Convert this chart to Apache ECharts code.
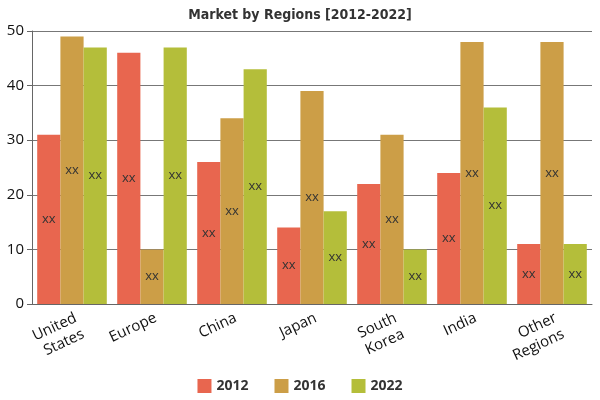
<!DOCTYPE html>
<html>
<head>
<meta charset="utf-8">
<script src="https://cdn.jsdelivr.net/npm/echarts@6/dist/echarts.min.js"></script>
<style>
  html, body { margin: 0; padding: 0; background: #fff; }
  #main { width: 600px; height: 400px; }
</style>
</head>
<body>
<div id="main"></div>
<script>
  // 数据
  const regions = ['United\nStates', 'Europe', 'China', 'Japan', 'South\nKorea', 'India', 'Other\nRegions']
  const years = ['2012', '2016', '2022']
  const v2012 = [31, 46, 26, 14, 22, 24, 11]
  const v2016 = [49, 10, 34, 39, 31, 48, 48]
  const v2022 = [47, 47, 43, 17, 10, 36, 11]
  const yTicks = [0, 10, 20, 30, 40, 50]

  const colors = ['#E8664F', '#CC9E47', '#B4BE3A']

  const chart = echarts.init(document.getElementById('main'))

  const makeSeries = (name, data, color) => ({
    name,
    type: 'bar',
    data,
    barGap: 0,
    barCategoryGap: '13%',
    itemStyle: { color },
    label: {
      show: true,
      position: 'inside',
      formatter: 'xx',
      color: '#333',
      fontSize: 13,
      fontFamily: 'Open Sans',
    },
  })

  chart.setOption({
    animation: false,
    title: {
      text: 'Market by Regions [2012-2022]',
      left: 'center',
      top: 3,
      textStyle: { fontFamily: 'DejaVu Sans Condensed', fontWeight: 'bold', fontSize: 14, color: '#333' },
    },
    legend: {
      bottom: 2,
      left: 'center',
      itemWidth: 14,
      itemHeight: 14,
      itemGap: 26,
      icon: 'rect',
      textStyle: { fontFamily: 'Open Sans', fontWeight: 'bold', fontSize: 14, color: '#333' },
      data: years,
    },
    grid: { left: 32, right: 8, top: 31, bottom: 96 },
    xAxis: {
      type: 'category',
      data: regions,
      axisLine: { lineStyle: { color: '#666' } },
      axisTick: { alignWithLabel: true, length: 5, lineStyle: { color: '#666' } },
      axisLabel: {
        rotate: 25,
        align: 'right',
        verticalAlign: 'top',
        margin: 5,
        fontSize: 15,
        fontFamily: 'Open Sans',
        color: '#111',
        interval: 0,
        lineHeight: 18,
      },
    },
    yAxis: {
      type: 'value',
      min: yTicks[0],
      max: yTicks[yTicks.length - 1],
      interval: 10,
      axisLine: { show: true, lineStyle: { color: '#666' } },
      axisTick: { show: true, length: 5, lineStyle: { color: '#666' } },
      splitLine: { lineStyle: { color: '#777' } },
      axisLabel: { fontSize: 15, fontFamily: 'Open Sans', color: '#111', margin: 8 },
    },
    series: [
      makeSeries(years[0], v2012, colors[0]),
      makeSeries(years[1], v2016, colors[1]),
      makeSeries(years[2], v2022, colors[2]),
    ],
  })
</script>
</body>
</html>
